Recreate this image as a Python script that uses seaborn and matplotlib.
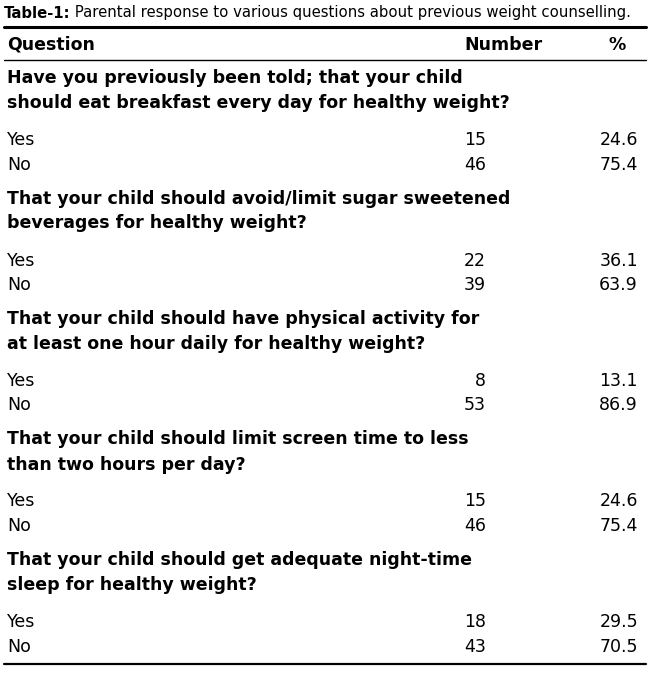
import matplotlib.pyplot as plt
import seaborn as sns

# table content
title_bold = "Table-1:"
title_rest = " Parental response to various questions about previous weight counselling."
headers = ["Question", "Number", "%"]
questions = [
    ["Have you previously been told; that your child", "should eat breakfast every day for healthy weight?"],
    ["That your child should avoid/limit sugar sweetened", "beverages for healthy weight?"],
    ["That your child should have physical activity for", "at least one hour daily for healthy weight?"],
    ["That your child should limit screen time to less", "than two hours per day?"],
    ["That your child should get adequate night-time", "sleep for healthy weight?"],
]
answers = ["Yes", "No"]
yes_n = [15, 22, 8, 15, 18]
no_n = [46, 39, 53, 46, 43]
yes_pct = [24.6, 36.1, 13.1, 24.6, 29.5]
no_pct = [75.4, 63.9, 86.9, 75.4, 70.5]

sns.set_theme(style="white")
plt.rcParams["font.family"] = ["Liberation Sans Narrow", "DejaVu Sans Condensed", "DejaVu Sans"]
plt.rcParams["text.color"] = "black"

W, H = 650, 675
fig = plt.figure(figsize=(6.5, 6.75), dpi=100)
ax = fig.add_axes([0, 0, 1, 1])
ax.set_xlim(0, W)
ax.set_ylim(H, 0)
ax.axis("off")

fs = 12.5
x_q, x_num, x_pct = 7, 486, 638

# title: shrink until it fits the width
tfs = 13
while True:
    t1 = ax.text(4, 13, title_bold, fontsize=tfs, fontweight="bold", va="center")
    fig.canvas.draw()
    bb = t1.get_window_extent().transformed(ax.transData.inverted())
    t2 = ax.text(bb.x1, 13, title_rest, fontsize=tfs, va="center")
    fig.canvas.draw()
    bb2 = t2.get_window_extent().transformed(ax.transData.inverted())
    if bb2.x1 <= 647 or tfs < 7:
        break
    t1.remove()
    t2.remove()
    tfs -= 0.25

ax.plot([4, 646], [27, 27], color="black", lw=2.2)
ax.text(x_q, 45, headers[0], fontsize=fs, fontweight="bold", va="center")
ax.text(503, 45, headers[1], fontsize=fs, fontweight="bold", va="center", ha="center")
ax.text(617, 45, headers[2], fontsize=fs, fontweight="bold", va="center", ha="center")
ax.plot([4, 646], [60, 60], color="black", lw=1)

y0, block = 78, 120.5
for i, q in enumerate(questions):
    y = y0 + i * block
    ax.text(x_q, y, q[0], fontsize=fs, fontweight="bold", va="center")
    ax.text(x_q, y + 25, q[1], fontsize=fs, fontweight="bold", va="center")
    rows = [(yes_n[i], yes_pct[i]), (no_n[i], no_pct[i])]
    for j, (n, p) in enumerate(rows):
        yy = y + 62 + j * 24.5
        ax.text(x_q, yy, answers[j], fontsize=fs, va="center")
        ax.text(x_num, yy, str(n), fontsize=fs, va="center", ha="right")
        ax.text(x_pct, yy, f"{p:.1f}", fontsize=fs, va="center", ha="right")

ax.plot([4, 646], [664, 664], color="black", lw=1.6)

fig.savefig("out.png", dpi=100, facecolor="white")
